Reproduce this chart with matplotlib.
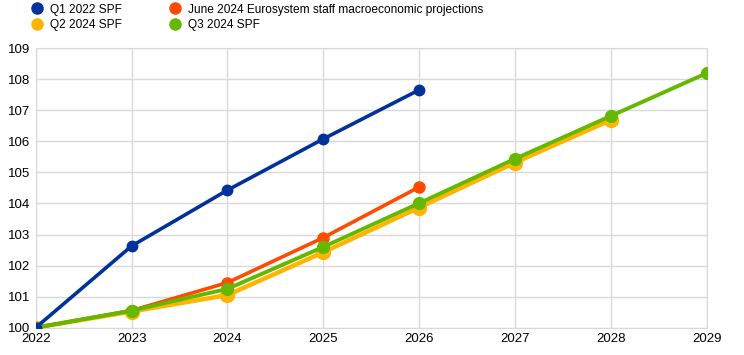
import numpy as np
import matplotlib
matplotlib.use('Agg')
from matplotlib import pyplot as plt
from matplotlib.lines import Line2D

plt.rcParams['font.family'] = ['Liberation Sans', 'DejaVu Sans']

# data (index, 2022 = 100)
years = [2022, 2023, 2024, 2025, 2026, 2027, 2028, 2029]
q1_2022 = [100.0, 102.63, 104.43, 106.08, 107.66]
june_2024 = [100.0, 100.55, 101.45, 102.90, 104.53]
q2_2024 = [100.0, 100.52, 101.05, 102.43, 103.87, 105.32, 106.69]
q3_2024 = [100.0, 100.55, 101.25, 102.60, 104.01, 105.44, 106.82, 108.20]

names = ['Q1 2022 SPF', 'Q2 2024 SPF',
         'June 2024 Eurosystem staff macroeconomic projections', 'Q3 2024 SPF']
blue = '#003299'
orange = '#ff4b00'
yellow = '#ffb400'
green = '#65b800'
grid_col = '#d9d9d9'

fig = plt.figure(figsize=(7.44, 3.55), dpi=100)
ax = fig.add_axes([0.048, 0.077, 0.902, 0.787])

ax.plot(years[:len(q2_2024)], q2_2024, color=yellow, lw=3.2, marker='o', ms=10, zorder=3)
ax.plot(years[:len(june_2024)], june_2024, color=orange, lw=2.6, marker='o', ms=8, zorder=4)
ax.plot(years[:len(q3_2024)], q3_2024, color=green, lw=2.8, marker='o', ms=8.5, zorder=5)
ax.plot(years[:len(q1_2022)], q1_2022, color=blue, lw=2.6, marker='o', ms=7.5, zorder=6)

ax.set_xlim(2022, 2029)
ax.set_ylim(100, 109)
ax.set_xticks(years)
ax.set_yticks(np.arange(100, 110, 1))
ax.grid(True, color=grid_col, lw=1.0, zorder=0)
ax.set_axisbelow(True)
for s in ax.spines.values():
    s.set_color(grid_col)
ax.tick_params(length=0, labelsize=9.5, colors='#000000')
ax.tick_params(axis='x', pad=4)
ax.tick_params(axis='y', pad=4)

handles = [Line2D([], [], ls='', marker='o', ms=8, color=c) for c in [blue, yellow, orange, green]]
fig.legend(handles, names, ncol=2, loc='upper left', bbox_to_anchor=(0.026, 1.02),
           frameon=False, fontsize=8.6, handletextpad=0.5, columnspacing=3.8,
           labelspacing=0.3, handlelength=1.2)

fig.savefig('out.png', dpi=100)
